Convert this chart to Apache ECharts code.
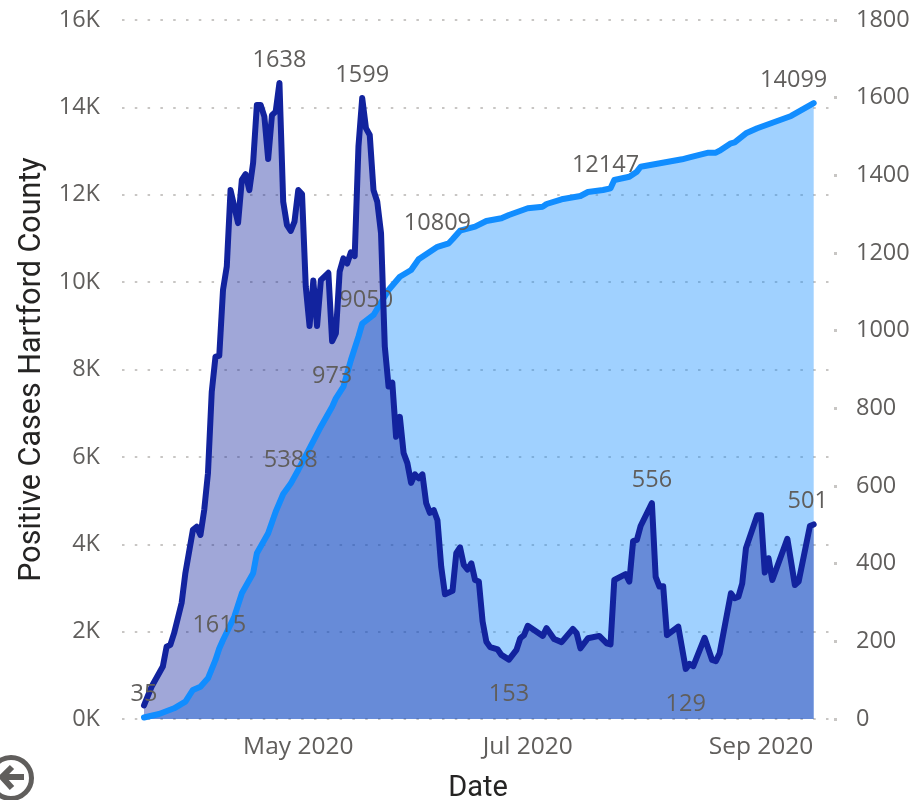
<!DOCTYPE html>
<html><head><meta charset="utf-8">
<style>html,body{margin:0;padding:0;background:#fff}#c{width:917px;height:800px}</style>
<script src="https://cdn.jsdelivr.net/npm/echarts@6/dist/echarts.min.js"></script>
</head><body><div id="c"></div>
<script>
const totalDays=[0,4,8,11,13,15,17,19,20,21,24,26,29,30,33,35,37,39,41,44,47,50,51,53,55,57,58,61,65,68,71,73,76,78,81,82,84,88,91,95,97,102,106,107,111,116,118,122,124,125,129,131,132,143,145,150,152,153,156,157,160,163,172,174,178];
const totalCases=[35,115,245,396,664,739,932,1351,1615,1808,2342,2877,3335,3793,4251,4745,5150,5388,5700,6196,6691,7149,7341,7606,8217,8751,9050,9248,9820,10124,10278,10523,10697,10809,10889,10980,11177,11269,11399,11461,11537,11690,11727,11788,11896,11971,12063,12109,12147,12338,12413,12528,12642,12811,12857,12963,12963,13009,13178,13201,13407,13521,13803,13901,14099];
const dailyDays=[0,2,5,6,7,8,10,11,13,14,15,16,17,18,19,20,21,22,23,25,26,27,28,29,30,31,32,33,34,35,36,37,38,39,40,41,42,43,44,45,46,47,49,50,51,52,53,54,55,56,57,58,59,60,61,62,63,64,65,66,67,68,69,70,71,72,73,74,75,76,77,78,79,80,82,83,84,85,86,87,88,89,90,91,92,94,95,97,99,100,101,102,106,107,109,111,114,115,116,118,121,123,124,125,128,129,130,131,132,135,136,137,138,139,142,144,145,146,149,151,152,153,156,157,158,159,160,163,164,165,166,167,171,173,174,177,178];
const dailyCases=[35,83,135,186,191,221,299,376,487,495,474,538,633,842,933,935,1105,1165,1362,1277,1388,1403,1362,1432,1581,1581,1551,1442,1555,1564,1638,1332,1272,1257,1281,1362,1352,1113,1012,1129,1012,1130,1149,973,993,1152,1186,1173,1202,1192,1474,1599,1521,1504,1362,1332,1251,959,856,866,727,778,685,659,608,630,620,630,556,531,538,512,392,321,330,427,442,397,385,401,358,354,251,199,185,179,165,153,178,208,216,240,214,234,206,198,232,221,182,208,214,195,192,358,373,354,458,461,497,556,366,341,342,216,238,129,142,136,209,152,149,169,324,311,315,349,440,525,525,377,414,358,464,345,354,497,501];
const totalLabelDays=[20,39,58,78,124,178];
const dailyLabelDaysAbove=[0,36,58,135,178];
const dailyLabelDaysBelow=[50,97,144];
const leftTickLabels=['0K','2K','4K','6K','8K','10K','12K','14K','16K'];
const monthTickDays=[41,102,164];
const monthTickLabels=['May 2020','Jul 2020','Sep 2020'];

const DAY=86400000, START=Date.UTC(2020,2,21);
const toTime=d=>START+d*DAY;
const TXT='#605E5C', FONT='"Open Sans", sans-serif', LIGHT='#118DFF', DARK='#12239E';
const labelBase={show:true,color:TXT,fontFamily:FONT,fontSize:23.5};
const totalNudge={58:{dx:4},124:{dx:-5},178:{dx:-20}};
const dailyNudge={0:{dy:12},178:{dx:-6}};

const pairs=(days,vals)=>days.map((d,i)=>[toTime(d),vals[i]]);
const totalLine=totalDays.map((d,i)=>{
  const item={value:[toTime(d),totalCases[i]]};
  item.label=totalLabelDays.includes(d)?{...labelBase,position:'top',distance:11}:{show:false};
  return item;
});
const dailyLine=dailyDays.map((d,i)=>{
  const item={value:[toTime(d),dailyCases[i]]};
  if(dailyLabelDaysAbove.includes(d)) item.label={...labelBase,position:'top',distance:11};
  else if(dailyLabelDaysBelow.includes(d)) item.label={...labelBase,position:'bottom',distance:23};
  else item.label={show:false};
  return item;
});
const area=(name,data,color,yi)=>({name,type:'line',data,yAxisIndex:yi,symbol:'none',silent:true,
  lineStyle:{width:0},itemStyle:{color},areaStyle:{color,opacity:0.4},z:2});
const line=(name,data,days,nudge,color,yi,z)=>({name,type:'line',data,yAxisIndex:yi,showSymbol:true,showAllSymbol:true,symbol:'circle',symbolSize:0,
  lineStyle:{color,width:6,cap:'round',join:'round'},itemStyle:{color},z,label:{show:false},
  labelLayout:p=>({hideOverlap:false,...(nudge[days[p.dataIndex]]||{})}),animation:false});

const chart=echarts.init(document.getElementById('c'),null,{renderer:'canvas'});
chart.setOption({
  animation:false,
  grid:{left:122,right:83,top:20,bottom:81,outerBoundsMode:'none'},
  xAxis:{type:'value',min:toTime(-5.85),max:toTime(183.4),scale:true,
    name:'Date',nameLocation:'middle',nameGap:55,
    nameTextStyle:{color:'#252423',fontFamily:'Roboto, sans-serif',fontSize:29},
    axisLine:{show:false},axisTick:{show:false},splitLine:{show:false},
    axisLabel:{color:TXT,fontFamily:FONT,fontSize:24.5,margin:16,hideOverlap:false,showMinLabel:true,showMaxLabel:true,
      customValues:monthTickDays.map(toTime),
      formatter:(v)=>monthTickLabels[monthTickDays.findIndex(d=>toTime(d)===v)]||''}},
  yAxis:[
    {type:'value',min:0,max:16000,interval:2000,position:'left',
     name:'Positive Cases Hartford County',nameLocation:'middle',nameGap:74,nameRotate:90,
     nameTextStyle:{color:'#252423',fontFamily:'Roboto, sans-serif',fontSize:30.5},
     axisLine:{show:false},axisTick:{show:false},
     splitLine:{show:true,lineStyle:{color:'#C8C6C4',width:2,type:[2.5,10.3]}},
     axisLabel:{color:TXT,fontFamily:FONT,fontSize:23.5,margin:22,
       formatter:v=>leftTickLabels[v/2000]}},
    {type:'value',min:0,max:1800,interval:200,position:'right',
     axisLine:{show:false},splitLine:{show:false},
     axisTick:{show:true,length:3,lineStyle:{color:'#C8C6C4',width:3}},
     axisLabel:{color:TXT,fontFamily:FONT,fontSize:23.5,margin:22,formatter:v=>String(v)}}
  ],
  series:[
    area('Total area',pairs(totalDays,totalCases),LIGHT,0),
    area('Daily area',pairs(dailyDays,dailyCases),DARK,1),
    line('Total cases',totalLine,totalDays,totalNudge,LIGHT,0,3),
    line('Daily cases',dailyLine,dailyDays,dailyNudge,DARK,1,4)
  ],
  graphic:[
    {type:'circle',shape:{cx:11,cy:778,r:20.5},style:{fill:'none',stroke:TXT,lineWidth:5},z:10},
    {type:'polyline',shape:{points:[[24,777],[1,777]]},style:{stroke:TXT,lineWidth:6,fill:'none'},z:10},
    {type:'polyline',shape:{points:[[12,767],[2,777],[12,788]]},style:{stroke:TXT,lineWidth:6,fill:'none'},z:10}
  ]
});
</script></body></html>
